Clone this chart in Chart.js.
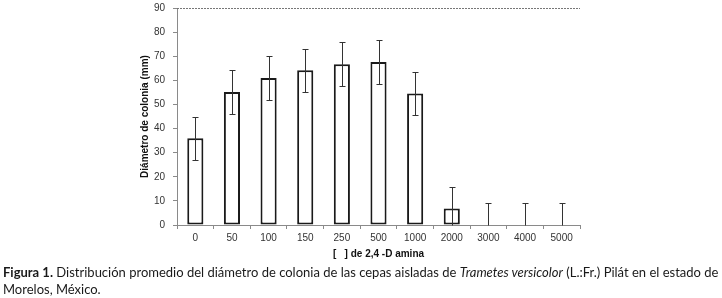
<!DOCTYPE html>
<html>
<head>
<meta charset="utf-8">
<script src="https://cdn.jsdelivr.net/npm/chart.js@4"></script>
<style>
  html, body { margin: 0; padding: 0; background: #fff; }
  #wrap { position: relative; width: 722px; height: 298px; overflow: hidden; }
  #chart { position: absolute; left: 0; top: 0; }
  #caption {
    position: absolute; left: 3px; top: 264px; width: 722px;
    font-family: Lato, "Open Sans", sans-serif; font-size: 13px; line-height: 17px;
    color: #1a1a1a; white-space: nowrap;
  }
</style>
</head>
<body>
<div id="wrap">
  <canvas id="chart" width="722" height="275"></canvas>
  <div id="caption"><b>Figura 1.</b> Distribución promedio del diámetro de colonia de las cepas aisladas de <i>Trametes versicolor</i> (L.:Fr.) Pilát en el estado de<br>Morelos, México.</div>
</div>
<script>
// concentraciones de 2,4-D amina
const categories = ['0', '50', '100', '150', '250', '500', '1000', '2000', '3000', '4000', '5000']
// diámetro medio de colonia (mm)
const diameters = [36, 55.2, 61, 64.2, 66.7, 67.6, 54.5, 6.8, 0, 0, 0]
// desviación (mm)
const errors = [9, 9, 9, 9, 9, 9, 9, 9, 9, 9, 9]
const yTicks = [0, 10, 20, 30, 40, 50, 60, 70, 80, 90]
const xTitle = '[   ] de 2,4 -D amina'

const axisGray = '#8a8a8a'

// barras de error, línea superior punteada y título del eje x
const errorBars = {
  id: 'errorBars',
  afterDatasetsDraw(chart) {
    const { ctx, scales: { x, y }, chartArea } = chart
    ctx.save()
    // línea punteada en 90
    const top = Math.round(y.getPixelForValue(90)) + 0.5
    ctx.strokeStyle = '#777'
    ctx.lineWidth = 1
    ctx.setLineDash([2, 1])
    ctx.beginPath()
    ctx.moveTo(chartArea.left, top)
    ctx.lineTo(chartArea.right, top)
    ctx.stroke()
    ctx.setLineDash([])

    ctx.strokeStyle = '#333'
    ctx.lineWidth = 1
    diameters.forEach((v, i) => {
      const cx = Math.round(x.getPixelForValue(i)) + 0.5
      const hi = Math.round(y.getPixelForValue(v + errors[i])) + 0.5
      const lo = Math.round(y.getPixelForValue(Math.max(0, v - errors[i]))) + 0.5
      ctx.beginPath()
      ctx.moveTo(cx, hi)
      ctx.lineTo(cx, lo)
      ctx.moveTo(cx - 3, hi)
      ctx.lineTo(cx + 3, hi)
      if (v - errors[i] > 0) {
        ctx.moveTo(cx - 3, lo)
        ctx.lineTo(cx + 3, lo)
      }
      ctx.stroke()
    })

    ctx.fillStyle = '#111'
    ctx.font = 'bold 10px "Liberation Sans"'
    ctx.textAlign = 'center'
    ctx.textBaseline = 'middle'
    ctx.fillText(xTitle, (chartArea.left + chartArea.right) / 2, x.top + 29)
    ctx.restore()
  }
}

new Chart(document.getElementById('chart'), {
  type: 'bar',
  data: {
    labels: categories,
    datasets: [{
      data: diameters,
      backgroundColor: '#ffffff',
      borderColor: '#1a1a1a',
      borderWidth: ctx => (ctx.raw > 0 ? 2 : 0),
      borderSkipped: false,
      categoryPercentage: 1,
      barPercentage: 0.44
    }]
  },
  options: {
    responsive: false,
    animation: false,
    layout: { padding: { left: 139, right: 142, top: 8, bottom: 28 } },
    plugins: { legend: { display: false }, tooltip: { enabled: false } },
    scales: {
      x: {
        grid: { drawOnChartArea: false, tickLength: 4, color: axisGray },
        border: { color: axisGray },
        ticks: { color: '#333', font: { family: 'Liberation Sans', size: 10 }, padding: 3, maxRotation: 0 }
      },
      y: {
        min: 0, max: 90,
        afterBuildTicks: s => { s.ticks = yTicks.map(v => ({ value: v })) },
        afterFit: s => { s.width = 38; s.paddingTop = 0; s.paddingBottom = 0 },
        grid: { drawOnChartArea: false, tickLength: 4, color: axisGray },
        border: { color: axisGray },
        ticks: { color: '#333', font: { family: 'Liberation Sans', size: 10 }, padding: 8 },
        title: {
          display: true, text: 'Diámetro de colonia (mm)', color: '#111',
          font: { family: 'Liberation Sans', size: 10, weight: 'bold' }, padding: 0
        }
      }
    }
  },
  plugins: [errorBars]
})
</script>
</body>
</html>
